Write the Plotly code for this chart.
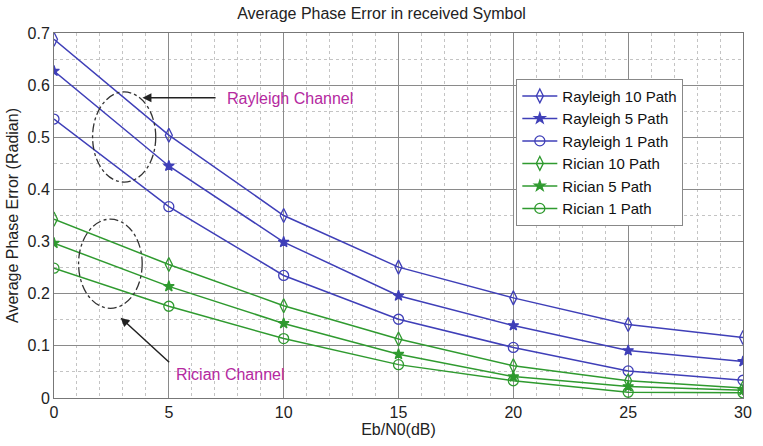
import plotly.graph_objects as go

# Eb/N0 sweep (dB)
ebn0 = [0, 5, 10, 15, 20, 25, 30]

# Average phase error (radian) per channel model / number of paths
rayleigh_10 = [0.688, 0.504, 0.350, 0.251, 0.192, 0.141, 0.116]
rayleigh_5 = [0.627, 0.445, 0.299, 0.196, 0.139, 0.091, 0.070]
rayleigh_1 = [0.535, 0.367, 0.235, 0.151, 0.097, 0.052, 0.034]
rician_10 = [0.343, 0.256, 0.177, 0.113, 0.062, 0.033, 0.019]
rician_5 = [0.297, 0.214, 0.143, 0.084, 0.041, 0.022, 0.015]
rician_1 = [0.249, 0.176, 0.114, 0.064, 0.033, 0.011, 0.010]

BLUE = "#3f3fb8"
GREEN = "#2f9a2f"
MAGENTA = "#b5299f"
TEXT = "#222222"
FONT = "Liberation Sans, Arial, sans-serif"

series = [
    ("Rayleigh 10 Path", rayleigh_10, BLUE, "diamond-tall-open", 10),
    ("Rayleigh 5 Path", rayleigh_5, BLUE, "star", 8),
    ("Rayleigh 1 Path", rayleigh_1, BLUE, "circle-open", 10),
    ("Rician 10 Path", rician_10, GREEN, "diamond-tall-open", 10),
    ("Rician 5 Path", rician_5, GREEN, "star", 8),
    ("Rician 1 Path", rician_1, GREEN, "circle-open", 10),
]

fig = go.Figure()
for i, (name, vals, color, symbol, msize) in enumerate(series):
    fig.add_trace(go.Scatter(
        x=ebn0, y=vals, name=name, mode="lines+markers",
        line=dict(color=color, width=1.5),
        marker=dict(symbol=symbol, size=msize, color=color,
                    line=dict(color=color, width=1.3)),
        legendgroup=f"g{i}",
    ))

# dash-dot ellipses grouping the two channel families
fig.add_shape(type="circle", xref="x", yref="y", x0=1.68, x1=4.43, y0=0.414, y1=0.587,
              line=dict(color="#333333", width=1.3, dash="dashdot"))
fig.add_shape(type="circle", xref="x", yref="y", x0=1.07, x1=3.84, y0=0.172, y1=0.343,
              line=dict(color="#333333", width=1.3, dash="dashdot"))

# arrows pointing at the ellipses
fig.add_annotation(x=3.85, y=0.576, ax=7.1, ay=0.576, xref="x", yref="y", axref="x", ayref="y",
                   showarrow=True, arrowhead=2, arrowsize=1.2, arrowwidth=1.5, arrowcolor="#222222",
                   text="")
fig.add_annotation(x=2.9, y=0.154, ax=5.08, ay=0.066, xref="x", yref="y", axref="x", ayref="y",
                   showarrow=True, arrowhead=2, arrowsize=1.2, arrowwidth=1.5, arrowcolor="#222222",
                   text="")
fig.add_annotation(x=7.45, y=0.574, xref="x", yref="y", text="Rayleigh Channel", showarrow=False,
                   xanchor="left", font=dict(color=MAGENTA, size=16, family=FONT))
fig.add_annotation(x=5.22, y=0.046, xref="x", yref="y", text="Rician Channel", showarrow=False,
                   xanchor="left", font=dict(color=MAGENTA, size=16, family=FONT))

axis_common = dict(
    showline=True, linecolor="#777777", linewidth=1, mirror=True,
    showgrid=True, gridcolor="#8a8a8a", gridwidth=1,
    zeroline=False, ticks="", tickfont=dict(size=16, color=TEXT, family=FONT),
)
fig.update_xaxes(range=[0, 30], dtick=5, tick0=0,
                 minor=dict(dtick=1, showgrid=True, gridcolor="#c4c4c4", griddash="dot", gridwidth=1),
                 title=dict(text="Eb/N0(dB)", font=dict(size=16, color=TEXT, family=FONT), standoff=3),
                 **axis_common)
fig.update_yaxes(range=[0, 0.7], dtick=0.1, tick0=0,
                 minor=dict(dtick=0.05, showgrid=True, gridcolor="#c4c4c4", griddash="dot", gridwidth=1),
                 title=dict(text="Average Phase Error (Radian)", font=dict(size=16, color=TEXT, family=FONT), standoff=4),
                 **axis_common)

fig.update_layout(
    width=763, height=446,
    margin=dict(l=54, r=11, t=33, b=46),
    paper_bgcolor="white", plot_bgcolor="white",
    font=dict(family=FONT, color=TEXT),
    title=dict(text="Average Phase Error in received Symbol", x=0.5, xanchor="center",
               y=0.97, yanchor="middle", font=dict(size=16, color=TEXT, family=FONT)),
    legend=dict(x=0.671, y=0.875, xanchor="left", yanchor="top",
                bgcolor="white", bordercolor="#888888", borderwidth=1,
                font=dict(size=15, color="#111111", family=FONT),
                traceorder="grouped", tracegroupgap=0, itemwidth=35),
    showlegend=True,
)

fig.write_html("out.html")
